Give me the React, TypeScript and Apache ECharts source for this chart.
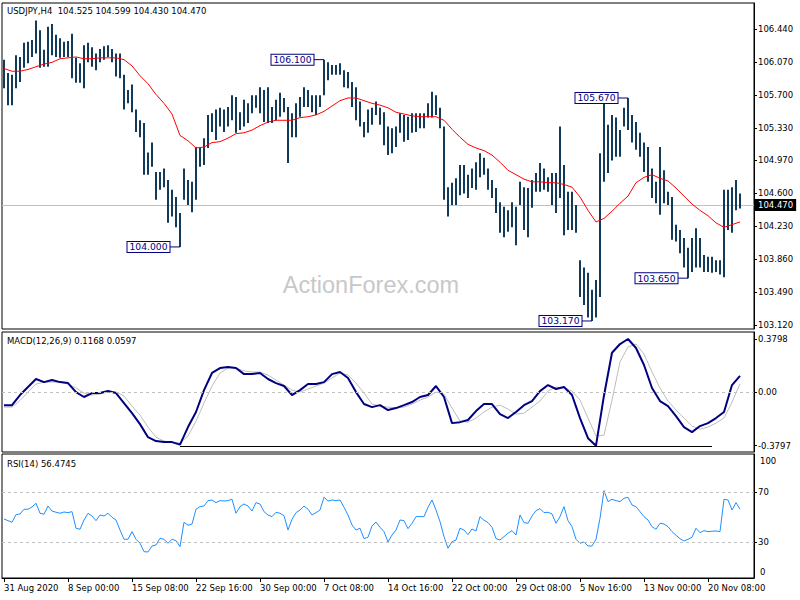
import React, { useEffect, useRef } from "react";
import * as echarts from "echarts";

// ---------- data ----------
const dateLabels = [
  "31 Aug 2020", "8 Sep 00:00", "15 Sep 08:00", "22 Sep 16:00", "30 Sep 00:00", "7 Oct 08:00",
  "14 Oct 16:00", "22 Oct 00:00", "29 Oct 08:00", "5 Nov 16:00", "13 Nov 00:00", "20 Nov 08:00",
];

const highs = [
  106.10, 105.95, 105.93, 106.15, 106.13, 106.29, 106.30, 106.32, 106.54, 106.43,
  106.21, 106.47, 106.50, 106.38, 106.34, 106.30, 106.31, 106.39, 106.12, 106.06,
  106.26, 106.29, 106.24, 106.17, 106.22, 106.25, 106.26, 106.22, 106.17, 106.17,
  105.93, 105.76, 105.82, 105.54, 105.42, 105.39, 105.06, 105.17, 104.84, 104.84,
  104.88, 104.75, 104.64, 104.56, 104.38, 104.88, 104.75, 104.73, 105.12, 105.12,
  105.22, 105.48, 105.50, 105.54, 105.56, 105.54, 105.57, 105.70, 105.68, 105.51,
  105.65, 105.61, 105.70, 105.70, 105.79, 105.76, 105.79, 105.57, 105.65, 105.73,
  105.67, 105.57, 105.50, 105.61, 105.68, 105.79, 105.76, 105.70, 105.70, 105.70,
  106.10, 106.07, 106.04, 106.04, 106.06, 105.98, 105.96, 105.85, 105.79, 105.63,
  105.40, 105.54, 105.56, 105.63, 105.56, 105.51, 105.35, 105.33, 105.35, 105.50,
  105.48, 105.46, 105.50, 105.50, 105.50, 105.50, 105.61, 105.74, 105.70, 105.56,
  105.35, 104.67, 104.72, 104.77, 104.92, 104.92, 104.81, 104.88, 104.95, 105.05,
  105.00, 104.88, 104.75, 104.66, 104.50, 104.45, 104.41, 104.50, 104.45, 104.73,
  104.67, 104.66, 104.75, 104.83, 104.94, 104.88, 104.78, 104.83, 104.83, 105.35,
  104.92, 104.62, 104.62, 104.47, 103.85, 103.77, 103.71, 103.52, 103.63, 105.05,
  105.62, 105.37, 105.48, 105.45, 105.31, 105.56, 105.67, 105.48, 105.40, 105.28,
  105.17, 105.12, 104.88, 104.73, 105.12, 104.86, 104.62, 104.56, 104.25, 104.19,
  104.10, 103.99, 104.10, 104.21, 104.10, 103.91, 103.89, 103.89, 103.85, 103.85,
  104.64, 104.64, 104.67, 104.75, 104.599,
];

const lows = [
  105.78, 105.59, 105.59, 105.78, 105.85, 106.01, 106.06, 106.13, 106.17, 106.01,
  106.02, 106.02, 106.15, 106.13, 106.12, 106.13, 106.13, 105.89, 105.84, 105.84,
  105.78, 106.07, 106.02, 105.98, 106.07, 106.10, 106.13, 106.07, 105.91, 105.89,
  105.54, 105.61, 105.51, 105.29, 105.23, 104.81, 104.81, 104.90, 104.53, 104.64,
  104.67, 104.27, 104.34, 104.22, 104.00, 104.53, 104.47, 104.39, 104.53, 104.90,
  104.92, 105.11, 105.29, 105.20, 105.35, 105.29, 105.35, 105.42, 105.28, 105.31,
  105.35, 105.39, 105.50, 105.56, 105.50, 105.40, 105.39, 105.39, 105.42, 105.46,
  105.51, 104.94, 105.23, 105.23, 105.46, 105.57, 105.57, 105.51, 105.48, 105.57,
  105.70, 105.87, 105.93, 105.93, 105.93, 105.79, 105.78, 105.57, 105.42, 105.35,
  105.23, 105.28, 105.37, 105.48, 105.37, 105.14, 105.03, 105.05, 105.12, 105.28,
  105.18, 105.20, 105.28, 105.29, 105.33, 105.33, 105.45, 105.45, 105.48, 105.33,
  104.53, 104.34, 104.47, 104.47, 104.58, 104.60, 104.55, 104.66, 104.64, 104.78,
  104.81, 104.64, 104.55, 104.38, 104.16, 104.11, 104.17, 104.22, 104.02, 104.47,
  104.19, 104.11, 104.44, 104.62, 104.62, 104.64, 104.62, 104.47, 104.38, 104.55,
  104.13, 104.19, 104.19, 104.16, 103.44, 103.35, 103.21, 103.17, 103.21, 103.44,
  104.73, 104.83, 104.97, 105.01, 105.01, 105.35, 105.31, 105.17, 105.09, 105.01,
  104.84, 104.73, 104.55, 104.49, 104.36, 104.49, 104.47, 104.08, 104.06, 103.93,
  103.77, 103.65, 103.72, 103.77, 103.77, 103.72, 103.72, 103.71, 103.72, 103.69,
  103.66, 104.19, 104.16, 104.41, 104.43,
];

// moving average, one value every 2 bars
const maValues = [
  106.00, 105.97, 105.97, 105.99, 106.02, 106.05, 106.07, 106.11, 106.12, 106.13,
  106.11, 106.11, 106.12, 106.12, 106.12, 106.10, 106.03, 105.92, 105.83, 105.71,
  105.61, 105.49, 105.25, 105.19, 105.11, 105.12, 105.17, 105.18, 105.22, 105.27,
  105.28, 105.31, 105.36, 105.40, 105.42, 105.42, 105.42, 105.45, 105.46, 105.48,
  105.52, 105.58, 105.64, 105.67, 105.67, 105.64, 105.61, 105.59, 105.56, 105.51,
  105.49, 105.47, 105.46, 105.46, 105.46, 105.42, 105.32, 105.23, 105.15, 105.11,
  105.08, 105.03, 104.95, 104.86, 104.81, 104.76, 104.73, 104.73, 104.72, 104.72,
  104.70, 104.67, 104.56, 104.41, 104.28, 104.32, 104.40, 104.49, 104.57, 104.72,
  104.78, 104.81, 104.77, 104.74, 104.66, 104.57, 104.48, 104.41, 104.35, 104.27,
  104.22, 104.25, 104.28,
];

// MACD(12,26,9), one value every 2 bars
const macdMain = [
  -0.091, -0.091, -0.019, 0.038, 0.095, 0.073, 0.088, 0.073, 0.066, 0.002,
  -0.033, -0.005, -0.005, 0.009, -0.005, -0.076, -0.148, -0.226, -0.319, -0.347,
  -0.354, -0.354, -0.372, -0.247, -0.140, 0.016, 0.138, 0.173, 0.180, 0.173,
  0.130, 0.130, 0.138, 0.095, 0.066, 0.045, -0.019, 0.016, 0.059, 0.059,
  0.073, 0.130, 0.145, 0.102, 0.002, -0.083, -0.105, -0.091, -0.126, -0.112,
  -0.091, -0.069, -0.033, -0.019, 0.045, -0.033, -0.219, -0.212, -0.197, -0.133,
  -0.083, -0.083, -0.155, -0.183, -0.140, -0.091, -0.062, 0.009, 0.052, 0.024,
  0.038, -0.019, -0.183, -0.326, -0.3797, -0.022, 0.282, 0.344, 0.3798, 0.316,
  0.195, 0.031, -0.062, -0.098, -0.169, -0.247, -0.283, -0.240, -0.219, -0.183,
  -0.140, 0.052, 0.1168,
];

const macdSignal = [
  -0.105, -0.105, -0.058, 0.002, 0.059, 0.073, 0.073, 0.073, 0.059, 0.031,
  -0.005, -0.019, -0.012, 0.002, 0.002, -0.026, -0.098, -0.162, -0.247, -0.319,
  -0.347, -0.354, -0.361, -0.311, -0.205, -0.076, 0.045, 0.138, 0.173, 0.173,
  0.152, 0.145, 0.145, 0.123, 0.088, 0.052, 0.016, 0.002, 0.024, 0.045,
  0.066, 0.102, 0.138, 0.123, 0.066, -0.005, -0.083, -0.098, -0.105, -0.112,
  -0.105, -0.083, -0.055, -0.033, 0.002, -0.012, -0.112, -0.205, -0.212, -0.183,
  -0.140, -0.105, -0.091, -0.119, -0.155, -0.148, -0.105, -0.062, 0.009, 0.038,
  0.031, 0.009, -0.055, -0.183, -0.311, -0.304, -0.055, 0.216, 0.323, 0.344,
  0.273, 0.145, 0.031, -0.062, -0.126, -0.183, -0.240, -0.262, -0.247, -0.219,
  -0.183, -0.069, 0.0597,
];

// RSI(14), one value per bar
const rsiValues = [
  48.6, 47.3, 46.0, 52.1, 52.6, 56.4, 56.4, 58.2, 61.2, 53.2,
  52.4, 59.0, 55.0, 54.0, 53.2, 54.2, 53.7, 54.5, 41.2, 40.4,
  47.8, 53.2, 51.0, 47.3, 51.8, 51.0, 53.2, 50.0, 47.8, 39.8,
  32.4, 32.4, 38.5, 32.4, 29.2, 22.5, 22.2, 27.0, 27.8, 33.2,
  32.4, 29.2, 32.4, 31.3, 26.5, 46.0, 43.6, 44.6, 56.4, 58.5,
  59.0, 63.3, 63.8, 61.7, 63.3, 63.0, 63.3, 64.4, 53.2, 58.5,
  60.6, 59.0, 55.0, 61.7, 60.6, 54.5, 51.8, 50.5, 54.0, 53.2,
  51.3, 39.8, 48.4, 53.7, 55.8, 59.0, 56.4, 51.8, 53.7, 55.8,
  66.0, 63.0, 63.8, 63.3, 63.8, 58.0, 51.8, 43.8, 39.8, 41.2,
  32.9, 34.0, 43.0, 46.2, 42.0, 38.5, 30.2, 35.8, 39.8, 47.8,
  47.3, 40.9, 45.2, 50.5, 50.5, 50.5, 58.0, 63.8, 55.8, 46.5,
  34.5, 25.2, 30.5, 31.8, 41.2, 39.8, 36.1, 40.6, 39.0, 50.5,
  47.6, 45.7, 42.0, 32.9, 31.8, 34.5, 37.2, 39.3, 35.8, 51.8,
  45.7, 45.2, 51.0, 55.3, 56.9, 53.7, 54.0, 52.6, 45.2, 50.5,
  58.5, 47.3, 42.5, 32.4, 29.2, 30.2, 27.0, 27.0, 32.4, 49.2,
  71.3, 62.5, 64.4, 63.3, 62.5, 65.2, 66.0, 59.8, 58.5, 54.5,
  50.5, 47.8, 42.5, 40.4, 45.2, 44.6, 42.5, 38.5, 35.6, 32.9,
  31.0, 32.4, 34.0, 41.2, 37.7, 39.3, 38.5, 38.8, 39.0, 38.5,
  64.4, 63.8, 55.8, 61.7, 56.4745,
];

const priceTicks = [106.44, 106.07, 105.7, 105.33, 104.97, 104.6, 104.23, 103.86, 103.49, 103.12];
const macdTicks = [0.3798, 0, -0.3797];
const rsiTicks = [70, 30];
const rsiLevels = [70, 30];

const annotations = [
  { bar: 80, price: 106.1, text: "106.100" },
  { bar: 44, price: 104.0, text: "104.000" },
  { bar: 156, price: 105.67, text: "105.670" },
  { bar: 171, price: 103.65, text: "103.650" },
  { bar: 147, price: 103.17, text: "103.170" },
];
const lastPrice = 104.47;
const macdTrendStart = 44;
const macdTrendEnd = 177;
const macdTrendLevel = -0.383;

const title = "USDJPY,H4  104.525 104.599 104.430 104.470";
const macdTitle = "MACD(12,26,9) 0.1168 0.0597";
const rsiTitle = "RSI(14) 56.4745";

// ---------- chart ----------
const FONT = "DejaVu Sans";
const FS = 8.5;
const SLOTS = highs.length + 3; // right-side chart shift

export default function App() {
  const ref = useRef<HTMLDivElement>(null);

  useEffect(() => {
    if (!ref.current) return;
    const chart = echarts.init(ref.current, undefined, { renderer: "svg" });

    const categories = Array.from({ length: SLOTS }, (_, i) =>
      i % 16 === 0 && i / 16 < dateLabels.length ? dateLabels[i / 16] : ""
    );
    const showLabel = (_: number, v: string) => v !== "";

    const gridBase = {
      left: 2,
      width: 752,
      show: true,
      borderColor: "#000",
      borderWidth: 1,
      backgroundColor: "#fff",
      containLabel: false,
      outerBoundsMode: "none",
    };

    const xBase = (gi: number, bottom: boolean) => ({
      type: "category",
      gridIndex: gi,
      data: categories,
      boundaryGap: true,
      axisLine: { show: bottom, lineStyle: { color: "#000", width: 1 } },
      axisTick: {
        show: bottom,
        interval: showLabel,
        alignWithLabel: true,
        length: 4,
        lineStyle: { color: "#000" },
      },
      axisLabel: {
        show: bottom,
        interval: showLabel,
        align: "left",
        color: "#000",
        fontFamily: FONT,
        fontSize: FS,
        margin: 5,
      },
      splitLine: { show: false },
    });

    const yBase = (gi: number, min: number, max: number, ticks: number[], fmt: (v: number) => string) => ({
      type: "value",
      gridIndex: gi,
      position: "right",
      min,
      max,
      scale: true,
      splitLine: { show: false },
      axisLine: { show: true, lineStyle: { color: "#000", width: 1 } },
      axisTick: { show: true, length: 3, customValues: ticks, lineStyle: { color: "#000" } },
      axisLabel: {
        customValues: ticks,
        formatter: fmt,
        color: "#000",
        fontFamily: FONT,
        fontSize: FS,
        margin: 4,
      },
    });

    const labelStyle = {
      color: "#000080",
      backgroundColor: "#fff",
      borderColor: "#000080",
      borderWidth: 1,
      padding: [1, 2, 0, 2],
      fontFamily: FONT,
      fontSize: 9.2,
    };

    const option: any = {
      animation: false,
      backgroundColor: "#fff",
      grid: [
        { ...gridBase, top: 3, height: 326 },
        { ...gridBase, top: 332, height: 120 },
        { ...gridBase, top: 454, height: 124 },
      ],
      xAxis: [xBase(0, false), xBase(1, false), xBase(2, true)],
      yAxis: [
        yBase(0, 103.08, 106.735, priceTicks, (v: number) => v.toFixed(3)),
        yBase(1, -0.4246, 0.4297, macdTicks, (v: number) => (Math.abs(v) < 1e-9 ? "0.00" : v.toFixed(4))),
        yBase(2, 1.4, 100.6, rsiTicks, (v: number) => String(Math.round(v))),
      ],
      graphic: [
        {
          type: "text",
          x: 371,
          y: 285,
          z: 0,
          silent: true,
          style: {
            text: "ActionForex.com",
            fill: "#c8c8c8",
            fontFamily: "Liberation Sans",
            fontSize: 23.5,
            align: "center",
            verticalAlign: "middle",
          },
        },
        {
          type: "text",
          x: 7,
          y: 10.5,
          z: 100,
          style: { text: title, fill: "#000", fontFamily: FONT, fontSize: FS, verticalAlign: "middle" },
        },
        {
          type: "text",
          x: 7,
          y: 340.5,
          z: 100,
          style: { text: macdTitle, fill: "#000", fontFamily: FONT, fontSize: FS, verticalAlign: "middle" },
        },
        {
          type: "text",
          x: 7,
          y: 464,
          z: 100,
          style: { text: rsiTitle, fill: "#000", fontFamily: FONT, fontSize: FS, verticalAlign: "middle" },
        },
        {
          type: "text",
          x: 760,
          y: 461,
          z: 100,
          style: { text: "100", fill: "#000", fontFamily: FONT, fontSize: FS, verticalAlign: "middle" },
        },
        {
          type: "text",
          x: 760,
          y: 572,
          z: 100,
          style: { text: "0", fill: "#000", fontFamily: FONT, fontSize: FS, verticalAlign: "middle" },
        },
      ],
      series: [
        {
          type: "custom",
          xAxisIndex: 0,
          yAxisIndex: 0,
          z: 3,
          silent: true,
          clip: true,
          encode: { x: 0, y: [1, 2] },
          data: highs.map((h, i) => [i, h, lows[i]]),
          renderItem: (_p: any, api: any) => {
            const i = api.value(0);
            const a = api.coord([i, api.value(1)]);
            const b = api.coord([i, api.value(2)]);
            return {
              type: "line",
              shape: { x1: a[0], y1: a[1], x2: b[0], y2: b[1] },
              style: { stroke: "#123a5a", lineWidth: 2 },
            };
          },
        },
        {
          type: "line",
          xAxisIndex: 0,
          yAxisIndex: 0,
          z: 4,
          silent: true,
          symbol: "none",
          data: maValues.map((v, j) => [2 * j, v]),
          lineStyle: { color: "#ff0000", width: 1 },
          markLine: {
            silent: true,
            symbol: ["none", "none"],
            z: 2,
            data: [{ yAxis: lastPrice }],
            lineStyle: { color: "#c0c0c0", type: "solid", width: 1 },
            label: {
              show: true,
              position: "end",
              distance: 1,
              formatter: lastPrice.toFixed(3),
              color: "#fff",
              backgroundColor: "#000",
              padding: [2, 3, 1, 3],
              fontFamily: FONT,
              fontSize: FS,
            },
            emphasis: { disabled: true },
          },
          markPoint: {
            silent: true,
            z: 10,
            data: annotations.flatMap((a) => [
              {
                coord: [a.bar, a.price],
                symbol: "rect",
                symbolSize: [10, 1],
                symbolOffset: [-5, 0],
                itemStyle: { color: "#000080" },
                label: { show: false },
              },
              {
                coord: [a.bar, a.price],
                symbol: "rect",
                symbolSize: 1,
                itemStyle: { color: "rgba(0,0,0,0)" },
                label: { show: true, position: "left", distance: 10, formatter: a.text, ...labelStyle },
              },
            ]),
          },
        },
        {
          type: "line",
          xAxisIndex: 1,
          yAxisIndex: 1,
          z: 3,
          silent: true,
          symbol: "none",
          data: macdSignal.map((v, j) => [2 * j, v]),
          lineStyle: { color: "#bdbdbd", width: 1 },
        },
        {
          type: "line",
          xAxisIndex: 1,
          yAxisIndex: 1,
          z: 4,
          silent: true,
          symbol: "none",
          data: macdMain.map((v, j) => [2 * j, v]),
          lineStyle: { color: "#000080", width: 2 },
          markLine: {
            silent: true,
            symbol: ["none", "none"],
            label: { show: false },
            emphasis: { disabled: true },
            data: [
              { yAxis: 0, lineStyle: { color: "#c0c0c0", type: [3, 3], width: 1 } },
              [
                { coord: [macdTrendStart, macdTrendLevel], lineStyle: { color: "#000", type: "solid", width: 1 } },
                { coord: [macdTrendEnd, macdTrendLevel] },
              ],
            ],
          },
        },
        {
          type: "line",
          xAxisIndex: 2,
          yAxisIndex: 2,
          z: 4,
          silent: true,
          symbol: "none",
          data: rsiValues.map((v, i) => [i, v]),
          lineStyle: { color: "#1e90ff", width: 1 },
          markLine: {
            silent: true,
            symbol: ["none", "none"],
            label: { show: false },
            emphasis: { disabled: true },
            lineStyle: { color: "#c0c0c0", type: [3, 3], width: 1 },
            data: rsiLevels.map((l) => ({ yAxis: l })),
          },
        },
      ],
    };

    chart.setOption(option);
    return () => chart.dispose();
  }, []);

  return (
    <div
      ref={ref}
      style={{ position: "fixed", left: 0, top: 0, width: 800, height: 600, background: "#fff" }}
    />
  );
}
